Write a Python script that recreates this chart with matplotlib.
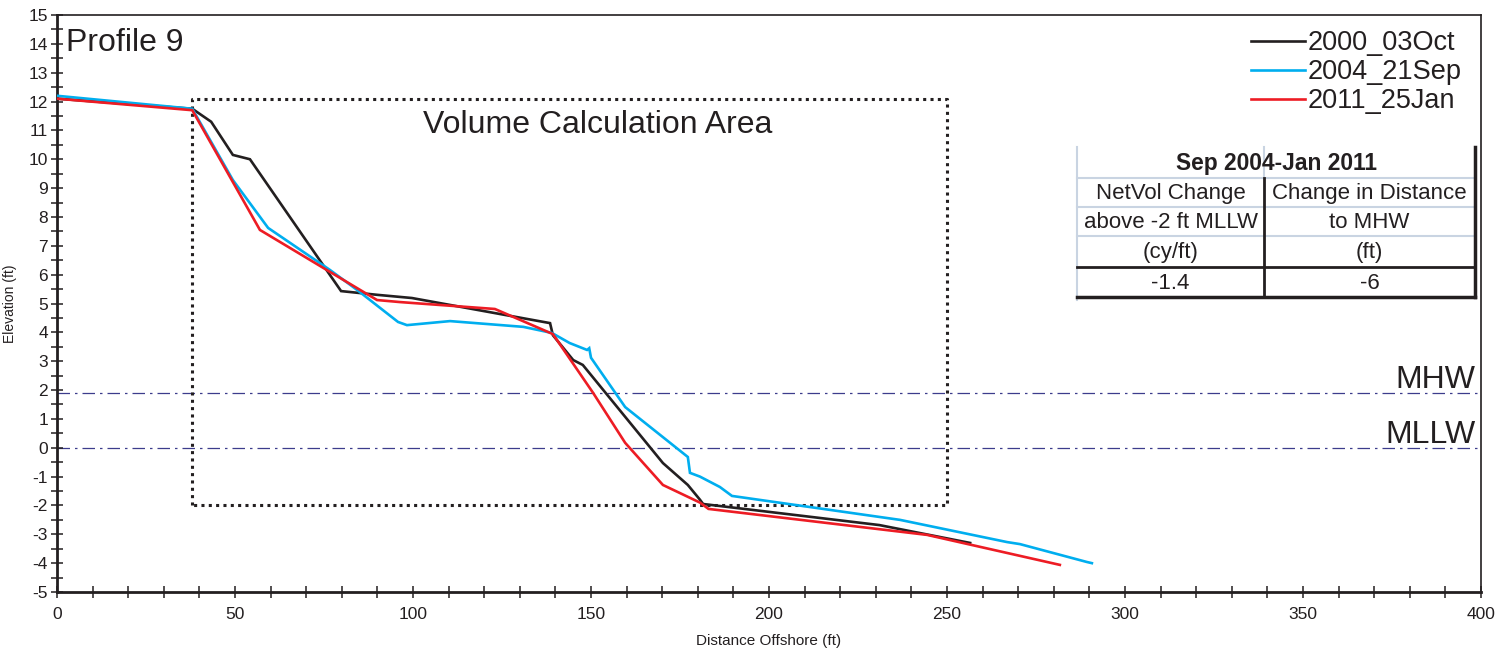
import matplotlib
matplotlib.use("Agg")
import matplotlib.pyplot as plt
from matplotlib.lines import Line2D
from matplotlib.ticker import MultipleLocator

plt.rcParams['font.family'] = ['Liberation Sans', 'DejaVu Sans']
plt.rcParams['axes.unicode_minus'] = False

# ---------------- data ----------------
x_2000 = [0, 38, 43.3, 49.4, 54.2, 79.8, 90, 99.7, 138.5, 139.3, 145, 147.7, 170.2, 177.2, 180.6, 181.5, 231, 256.5]
y_2000 = [12.1, 11.75, 11.3, 10.15, 10.0, 5.43, 5.3, 5.19, 4.32, 3.9, 3.04, 2.87, -0.53, -1.29, -1.8, -1.95, -2.68, -3.3]

x_2004 = [0, 38, 49.4, 59.3, 76.7, 84.3, 95.8, 98.3, 110.4, 131, 139, 144, 148.9, 149.5, 150, 159.6, 177.2, 177.8, 180.6, 186.2, 189.6, 236.8, 266.9, 270.5, 289.3, 290.7]
y_2004 = [12.2, 11.75, 9.28, 7.62, 6.16, 5.47, 4.36, 4.25, 4.39, 4.19, 3.98, 3.63, 3.39, 3.45, 3.12, 1.41, -0.32, -0.87, -1.0, -1.36, -1.67, -2.5, -3.27, -3.34, -3.96, -4.0]

x_2011 = [0, 38, 57, 75.8, 89.9, 96.3, 123, 139.3, 150.6, 159.6, 170.2, 180.6, 183, 244.4, 281.7]
y_2011 = [12.1, 11.7, 7.55, 6.16, 5.12, 5.05, 4.81, 3.94, 1.9, 0.17, -1.29, -1.9, -2.12, -3.02, -4.06]

series_labels = ['2000_03Oct', '2004_21Sep', '2011_25Jan']
series_colors = ['#231f20', '#00aeef', '#ed1c24']

box_x = [38, 250]
box_y = [-2, 12.1]
mhw = 1.9
mllw = 0.0

table_title = 'Sep 2004-Jan 2011'
table_col1 = ['NetVol Change', 'above -2 ft MLLW', '(cy/ft)', '-1.4']
table_col2 = ['Change in Distance', 'to MHW', '(ft)', '-6']

# ---------------- figure ----------------
W, H = 1504, 652
fig = plt.figure(figsize=(W / 100, H / 100), dpi=100)
ax = fig.add_axes([57 / W, 1 - 592 / H, (1481 - 57) / W, (592 - 15) / H])

for xs, ys, lab, c in zip([x_2000, x_2004, x_2011], [y_2000, y_2004, y_2011], series_labels, series_colors):
    ax.plot(xs, ys, color=c, lw=1.9, label=lab, zorder=3, solid_joinstyle='miter')

# volume box
ax.plot([box_x[0], box_x[0], box_x[1], box_x[1], box_x[0]],
        [box_y[0], box_y[1], box_y[1], box_y[0], box_y[0]],
        color='#231f20', lw=2.2, ls=(0, (1, 1.4)), zorder=2)

# tidal datums
for v in (mhw, mllw):
    ax.axhline(v, color='#3c3c8c', lw=0.9, ls=(0, (10, 4, 2, 4)), zorder=1)
ax.text(0.996, mhw - 0.08, 'MHW', transform=ax.get_yaxis_transform(), ha='right', va='bottom', fontsize=23, color='#231f20')
ax.text(0.996, mllw - 0.08, 'MLLW', transform=ax.get_yaxis_transform(), ha='right', va='bottom', fontsize=23, color='#231f20')

ax.text(152, 11.2, 'Volume Calculation Area', ha='center', va='center', fontsize=23, color='#231f20')
ax.text(2.5, 14.55, 'Profile 9', ha='left', va='top', fontsize=23, color='#231f20')

ax.set_xlim(0, 400)
ax.set_ylim(-5, 15)
ax.xaxis.set_major_locator(MultipleLocator(50))
ax.xaxis.set_minor_locator(MultipleLocator(10))
ax.yaxis.set_major_locator(MultipleLocator(1))
ax.yaxis.set_minor_locator(MultipleLocator(0.5))
ax.tick_params(axis='both', which='both', direction='inout', color='#231f20', width=1.1)
ax.tick_params(axis='both', which='major', length=9, labelsize=12.5, labelcolor='#231f20')
ax.tick_params(axis='both', which='minor', length=8)
ax.tick_params(axis='x', which='major', pad=6)
ax.tick_params(axis='y', which='major', pad=2)

for s in ('left', 'bottom'):
    ax.spines[s].set_linewidth(2.0)
for s in ('top', 'right'):
    ax.spines[s].set_linewidth(1.2)
for s in ax.spines.values():
    s.set_color('#231f20')

ax.set_xlabel('Distance Offshore (ft)', fontsize=11, color='#231f20', labelpad=9)
ax.set_ylabel('Elevation (ft)', fontsize=10, color='#231f20', labelpad=8)

leg = ax.legend(loc='upper right', bbox_to_anchor=((1481 - 19) / W, 1 - 30 / H), bbox_transform=fig.transFigure,
                frameon=False, fontsize=19.5, handlelength=2.0, handletextpad=0.1,
                labelspacing=0.12, borderaxespad=0, borderpad=0)
for t in leg.get_texts():
    t.set_color('#231f20')

# ---------------- table ----------------
def fx(px):
    return px / W

def fy(py):
    return 1 - py / H

light = '#c9d4e2'
dark = '#231f20'
xl, xm, xr = 1077, 1264, 1475
rows = [147, 178, 207, 236, 267, 297]

def hline(py, x0, x1, c, lw):
    fig.add_artist(Line2D([fx(x0), fx(x1)], [fy(py), fy(py)], color=c, lw=lw, transform=fig.transFigure))

def vline(px, y0, y1, c, lw):
    fig.add_artist(Line2D([fx(px), fx(px)], [fy(y0), fy(y1)], color=c, lw=lw, transform=fig.transFigure))

for r in rows[1:4]:
    hline(r, xl, xr, light, 1.5)
vline(xl, rows[0], rows[-1] + 3, light, 1.5)
vline(xm, rows[0], rows[1], light, 1.5)
vline(xm, rows[1], rows[-1], dark, 2.0)
vline(xr, rows[0], rows[-1], dark, 2.5)
hline(rows[4], xl, xr, dark, 2.0)
hline(rows[5], xl, xr, dark, 2.5)

fig.text(fx((xl + xr) / 2), fy((rows[0] + rows[1]) / 2 + 1), table_title, ha='center', va='center',
         fontsize=16.4, fontweight='bold', color=dark)
for i in range(4):
    yc = fy((rows[i + 1] + rows[i + 2]) / 2 + 1)
    fig.text(fx((xl + xm) / 2), yc, table_col1[i], ha='center', va='center', fontsize=16, color=dark)
    fig.text(fx((xm + xr) / 2), yc, table_col2[i], ha='center', va='center', fontsize=16, color=dark)

fig.savefig('out.png', dpi=100)
